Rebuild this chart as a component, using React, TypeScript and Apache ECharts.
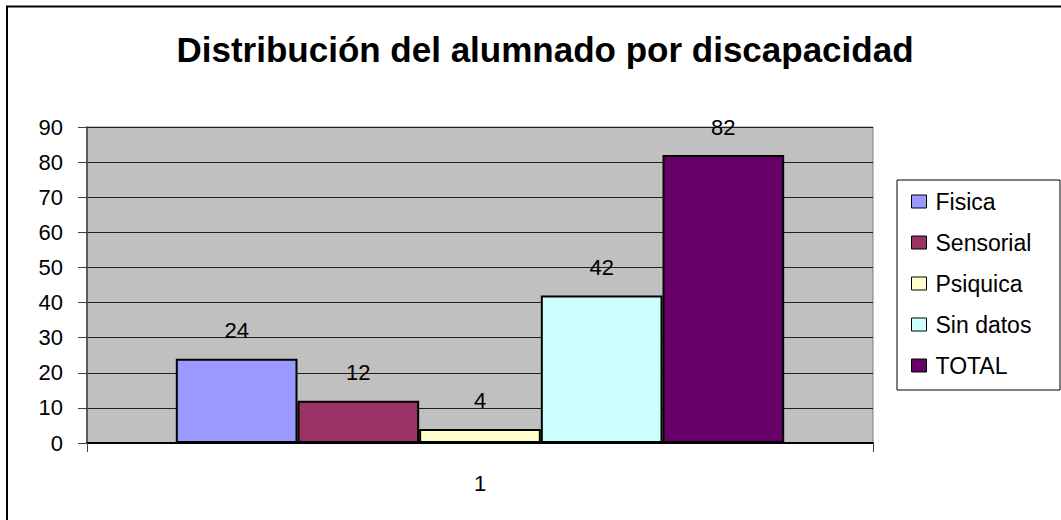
import React, { useEffect, useRef } from "react";
import * as echarts from "echarts";

const title = "Distribución del alumnado por discapacidad";
const categories = ["1"];
const seriesNames = ["Fisica", "Sensorial", "Psiquica", "Sin datos", "TOTAL"];
const seriesValues = [24, 12, 4, 42, 82];
const seriesColors = ["#9999FF", "#993366", "#FFFFCC", "#CCFFFF", "#660066"];
const yTicks = { min: 0, max: 90, interval: 10 };

const FONT = "'Liberation Sans', Arial, sans-serif";

export default function App() {
  const ref = useRef<HTMLDivElement>(null);
  useEffect(() => {
    if (!ref.current) return;
    const chart = echarts.init(ref.current, null, { renderer: "svg" });
    chart.setOption({
      animation: false,
      backgroundColor: "#ffffff",
      textStyle: { fontFamily: FONT },
      title: {
        text: title,
        left: 540,
        textAlign: "center",
        top: 27,
        textStyle: { fontFamily: FONT, fontSize: 35, fontWeight: "bold", color: "#000" },
      },
      graphic: [
        {
          type: "rect",
          shape: { x: 7, y: 6.5, width: 1070, height: 530 },
          style: { fill: "none", stroke: "#000", lineWidth: 2 },
          silent: true,
          z: 100,
        },
        {
          type: "rect",
          shape: { x: 897, y: 180, width: 163, height: 210 },
          style: { fill: "#fff", stroke: "#000", lineWidth: 1 },
          silent: true,
          z: 0,
        },
      ],
      legend: {
        orient: "vertical",
        left: 906,
        top: 185,
        itemWidth: 15,
        itemHeight: 13,
        itemGap: 18,
        icon: "rect",
        data: seriesNames,
        itemStyle: { borderColor: "#000", borderWidth: 1 },
        textStyle: { fontFamily: FONT, fontSize: 23, color: "#000", padding: [0, 0, 0, 4] },
        z: 5,
      },
      grid: { left: 87, top: 127, right: 188, bottom: 77, containLabel: false, show: true, backgroundColor: "#C0C0C0", borderColor: "#808080", borderWidth: 1 },
      xAxis: {
        type: "category",
        data: categories,
        axisLine: { show: true, lineStyle: { color: "#000", width: 2 } },
        axisTick: { show: true, length: 9, lineStyle: { color: "#404040", width: 1 } },
        axisLabel: { fontFamily: FONT, fontSize: 22, color: "#000", margin: 29 },
      },
      yAxis: {
        type: "value",
        min: yTicks.min,
        max: yTicks.max,
        interval: yTicks.interval,
        axisLine: { show: true, lineStyle: { color: "#404040", width: 1.5 } },
        axisTick: { show: true, length: 9, lineStyle: { color: "#404040", width: 1 } },
        axisLabel: { fontFamily: FONT, fontSize: 22, color: "#000", margin: 24 },
        splitLine: { show: true, lineStyle: { color: "#202020", width: 1 } },
      },
      series: seriesNames.map((name, i) => ({
        name,
        type: "bar",
        data: [seriesValues[i]],
        barGap: "0%",
        barCategoryGap: "22.6%",
        itemStyle: { color: seriesColors[i], borderColor: "#000", borderWidth: 2 },
        label: {
          show: true,
          position: "top",
          distance: 17,
          fontFamily: FONT,
          fontSize: 22,
          color: "#000",
        },
      })),
    });
    return () => chart.dispose();
  }, []);
  return (
    <div
      ref={ref}
      style={{ position: "fixed", left: 0, top: 0, width: 1061, height: 520 }}
    />
  );
}
